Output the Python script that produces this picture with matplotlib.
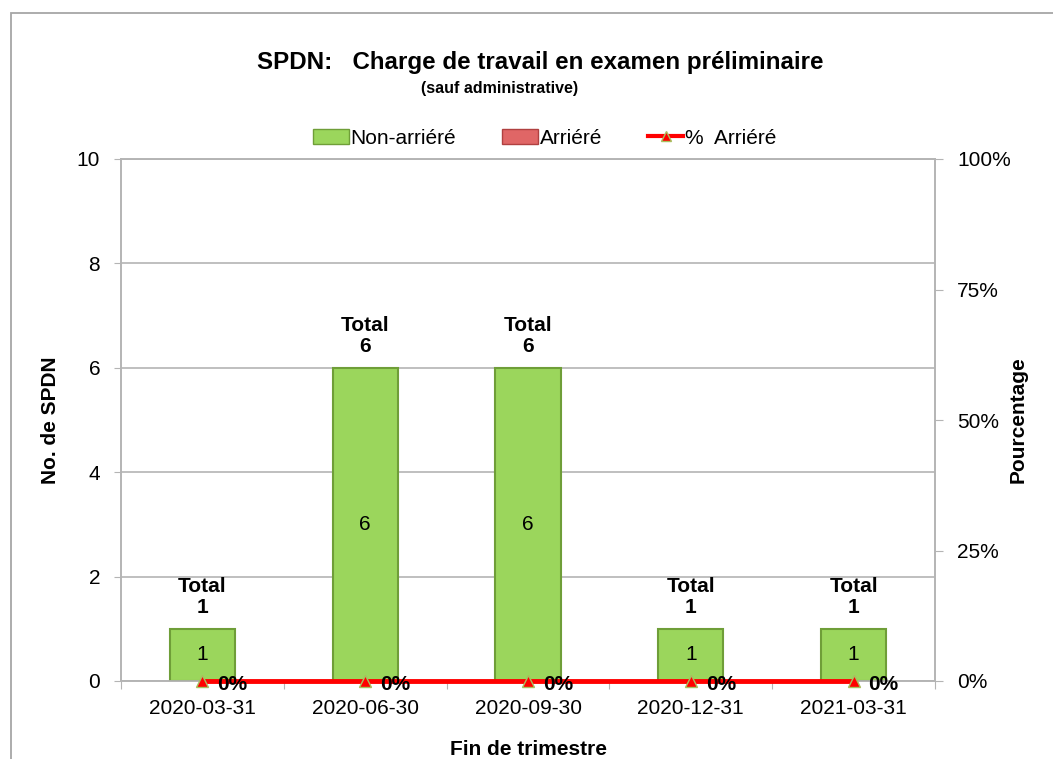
import numpy as np
import matplotlib
matplotlib.use('Agg')
import matplotlib.pyplot as plt
from matplotlib.patches import Rectangle, Patch
from matplotlib.lines import Line2D

plt.rcParams['font.family'] = ['Liberation Sans', 'DejaVu Sans']

# data
quarters = ['2020-03-31', '2020-06-30', '2020-09-30', '2020-12-31', '2021-03-31']
non_arriere = [1, 6, 6, 1, 1]
arriere = [0, 0, 0, 0, 0]
pct_arriere = [0.0, 0.0, 0.0, 0.0, 0.0]

green = '#9bd65c'
green_edge = '#6f9e38'
red_bar = '#e06666'
grid_col = '#b4b4b4'

fig = plt.figure(figsize=(10.53, 7.59), dpi=100)
ax = fig.add_axes([121/1053, 78/759, 814/1053, 522/759])
ax2 = ax.twinx()

x = np.arange(len(quarters))
width = 0.4
totals = np.array(non_arriere) + np.array(arriere)

ax.bar(x, non_arriere, width, color=green, edgecolor=green_edge, linewidth=1.5, zorder=3)
ax.bar(x, arriere, width, bottom=non_arriere, color=red_bar, linewidth=0, zorder=3)

for i, v in enumerate(non_arriere):
    if v > 0:
        ax.text(x[i], v/2, str(v), ha='center', va='center', fontsize=15, zorder=5)
for i, t in enumerate(totals):
    ax.annotate('Total\n%d' % t, (x[i], t), xytext=(0, 12), textcoords='offset pixels',
                ha='center', va='bottom', fontsize=15, fontweight='bold', linespacing=1.15)

ax.set_xlim(-0.5, len(quarters) - 0.5)
ax.set_ylim(0, 10)
ax.set_yticks(np.arange(0, 11, 2))
ax.yaxis.grid(True, color=grid_col, linewidth=1.2, zorder=0)
ax.set_axisbelow(True)

# category boundaries as tick marks, labels in the middle
ax.set_xticks(np.arange(-0.5, len(quarters), 1.0))
ax.set_xticklabels([])
ax.set_xticks(x, minor=True)
ax.set_xticklabels(quarters, minor=True)
ax.tick_params(axis='x', which='major', length=6, color=grid_col)
ax.tick_params(axis='x', which='minor', length=0, pad=13, labelsize=15)
ax.tick_params(axis='y', length=5, color=grid_col, labelsize=15, pad=10)

# percentage line on the right axis
ax2.plot(x, pct_arriere, color='#ff0000', linewidth=3.5, marker='^', markersize=9,
         markerfacecolor='#ff0000', markeredgecolor='#a8c060', clip_on=False, zorder=4)
for i, p in enumerate(pct_arriere):
    ax2.annotate('%d%%' % round(p*100), (x[i], p), xytext=(15, -4), textcoords='offset pixels',
                 ha='left', va='center', fontsize=15, fontweight='bold', zorder=6)
ax2.set_ylim(0, 1)
ax2.set_yticks([0, 0.25, 0.5, 0.75, 1.0])
ax2.set_yticklabels(['0%', '25%', '50%', '75%', '100%'])
ax2.tick_params(axis='y', length=6, color=grid_col, labelsize=15, pad=10)

for a in (ax, ax2):
    for s in a.spines.values():
        s.set_color(grid_col)
        s.set_linewidth(1.2)

ax.set_ylabel('No. de SPDN', fontsize=15, fontweight='bold', va='center')
ax.yaxis.set_label_coords(-0.087, 0.5)
ax2.set_ylabel('Pourcentage', fontsize=15, fontweight='bold', va='center')
ax2.yaxis.set_label_coords(1.102, 0.5)
ax.set_xlabel('Fin de trimestre', fontsize=15, fontweight='bold', va='center')
ax.xaxis.set_label_coords(0.5, -0.132)

fig.text(540/1053, 1 - 63/759, 'SPDN:   Charge de travail en examen préliminaire',
         ha='center', va='center', fontsize=17.4, fontweight='bold')
fig.text(500/1053, 1 - 89/759, '(sauf administrative)',
         ha='center', va='center', fontsize=11.5, fontweight='bold')

handles = [Patch(facecolor=green, edgecolor=green_edge),
           Patch(facecolor=red_bar, edgecolor='#b04040'),
           Line2D([], [], color='#ff0000', linewidth=3, marker='^', markersize=7,
                  markerfacecolor='#ff0000', markeredgecolor='#a8c060')]
fig.legend(handles, ['Non-arriéré', 'Arriéré', '%  Arriéré'], loc='center',
           bbox_to_anchor=(545/1053, 1 - 138/759), ncol=3, frameon=False, fontsize=15,
           handlelength=1.7, handletextpad=0.1, columnspacing=2.2)

# outer chart frame
fig.patches.append(Rectangle((11/1053, -0.02), 1.1, 1 - 13/759 + 0.02, transform=fig.transFigure,
                             fill=False, edgecolor='#a6a6a6', linewidth=1.3, clip_on=False))

fig.savefig('out.png', dpi=100)
